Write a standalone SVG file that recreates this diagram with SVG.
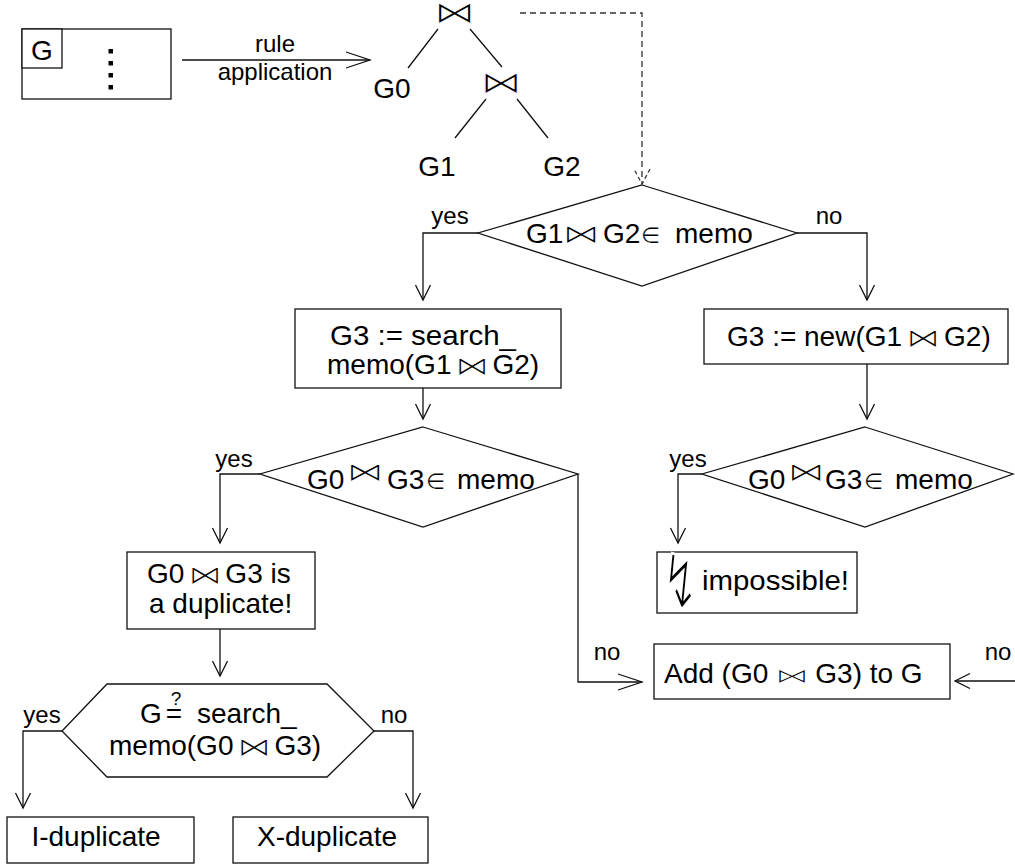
<svg xmlns="http://www.w3.org/2000/svg" width="1015" height="865" viewBox="0 0 1015 865">
  <style>
    .shape { fill: #fff; stroke: #111; stroke-width: 1.3; }
    .ln { fill: none; stroke: #111; stroke-width: 1.3; }
    .dash { fill: none; stroke: #333; stroke-width: 1.3; stroke-dasharray: 6 4; }
    .t { font-family: "Liberation Sans", Arial, sans-serif; font-size: 28px; fill: #000; }
    .c { text-anchor: middle; }
    .lbl { font-family: "Liberation Sans", Arial, sans-serif; font-size: 24px; fill: #000; text-anchor: middle; }
    /* join symbol: glyph thinned by a white stroke painted over its fill */
    .bt { font-family: "DejaVu Sans", sans-serif; font-size: 27px; text-anchor: middle; fill: #000; stroke: #fff; stroke-width: 0.9; }
    .el { font-family: "DejaVu Sans", sans-serif; font-size: 22px; fill: #000; stroke: #fff; stroke-width: 0.3; }
  </style>
  <defs>
    <marker id="ah" markerUnits="userSpaceOnUse" markerWidth="20" markerHeight="20" refX="0" refY="0" viewBox="-16 -10 20 20" orient="auto" overflow="visible">
      <path d="M-15,-7.5 L0,0 L-15,7.5" fill="none" stroke="#111" stroke-width="1.3"/>
    </marker>
    <marker id="ahL" markerUnits="userSpaceOnUse" markerWidth="30" markerHeight="20" refX="0" refY="0" viewBox="-26 -10 30 20" orient="auto" overflow="visible">
      <path d="M-24,-8 L0,0 L-24,8" fill="none" stroke="#111" stroke-width="1.3"/>
    </marker>
    <marker id="ahD" markerUnits="userSpaceOnUse" markerWidth="20" markerHeight="20" refX="0" refY="0" viewBox="-16 -10 20 20" orient="auto" overflow="visible">
      <path d="M-15,-8 L0,0 L-15,8" fill="none" stroke="#333" stroke-width="1.3" stroke-dasharray="4 3"/>
    </marker>
  </defs>

  <!-- connectors -->
  <g id="connectors">
    <path class="ln" d="M182,60 H370" marker-end="url(#ahL)"/>
    <path class="dash" d="M520,13 H642 V184" marker-end="url(#ahD)"/>
    <!-- join tree edges -->
    <path class="ln" d="M438,29 L408,68 M470,29 L502,67 M486,99 L455,138 M517,99 L548,138"/>
    <path class="ln" d="M478,233 H423 V300" marker-end="url(#ah)"/>
    <path class="ln" d="M797,233 H867 V300" marker-end="url(#ah)"/>
    <path class="ln" d="M423,388 V419" marker-end="url(#ah)"/>
    <path class="ln" d="M867,364 V419" marker-end="url(#ah)"/>
    <path class="ln" d="M260,474 H220 V543" marker-end="url(#ah)"/>
    <path class="ln" d="M578,474 V682 H642" marker-end="url(#ahL)"/>
    <path class="ln" d="M702,474 H678 V543" marker-end="url(#ah)"/>
    <path class="ln" d="M1015,681 H955" marker-end="url(#ah)"/>
    <path class="ln" d="M220,629 V676" marker-end="url(#ah)"/>
    <path class="ln" d="M62,731 H23 V808" marker-end="url(#ah)"/>
    <path class="ln" d="M374,731 H413 V808" marker-end="url(#ah)"/>
    <text class="lbl" x="275" y="52">rule</text>
    <text class="lbl" x="275" y="80">application</text>
    <text class="lbl" x="450" y="224">yes</text>
    <text class="lbl" x="829" y="224">no</text>
    <text class="lbl" x="234" y="467">yes</text>
    <text class="lbl" x="688" y="467">yes</text>
    <text class="lbl" x="607" y="660">no</text>
    <text class="lbl" x="998" y="660">no</text>
    <text class="lbl" x="42" y="723">yes</text>
    <text class="lbl" x="394" y="723">no</text>
  </g>

  <!-- group G with its members -->
  <g id="group-g">
    <rect class="shape" x="22" y="29" width="149" height="70"/>
    <rect class="shape" x="22" y="29" width="40" height="39"/>
    <text class="t c" x="42" y="60">G</text>
    <rect x="108.5" y="49" width="4.5" height="4.5" fill="#000"/>
    <rect x="108.5" y="61" width="4.5" height="4.5" fill="#000"/>
    <rect x="108.5" y="73" width="4.5" height="4.5" fill="#000"/>
    <rect x="108.5" y="85" width="4.5" height="4.5" fill="#000"/>
  </g>

  <!-- operator tree -->
  <g id="join-top"><text class="bt" style="font-size:31px" transform="translate(454.5,13.5) scale(1.33,1)" y="9.9">⋈</text></g>
  <g id="join-inner"><text class="bt" style="font-size:31px" transform="translate(501,83.5) scale(1.33,1)" y="9.9">⋈</text></g>
  <g id="leaf-g0"><text class="t c" x="392" y="98">G0</text></g>
  <g id="leaf-g1"><text class="t c" x="437" y="176">G1</text></g>
  <g id="leaf-g2"><text class="t c" x="562" y="176">G2</text></g>

  <g id="test-g1g2">
    <polygon class="shape" points="642,185 797,233 642,286 478,233"/>
    <text class="t" y="243"><tspan x="526">G1</tspan><tspan x="603">G2</tspan><tspan x="675">memo</tspan></text>
    <text class="bt" transform="translate(581,234.5) scale(1.38,1)" y="8.6">⋈</text>
    <text class="el" x="641" y="243">∈</text>
  </g>

  <g id="search-g1g2">
    <rect class="shape" x="295" y="309" width="266" height="79"/>
    <text class="t" x="330" y="345" textLength="186" lengthAdjust="spacingAndGlyphs">G3 := search_</text>
    <text class="t" x="327" y="374">memo(G1<tspan dx="41">G2)</tspan></text>
    <text class="bt" transform="translate(472,366) scale(1.25,1)" y="8.6">⋈</text>
  </g>

  <g id="new-g1g2">
    <rect class="shape" x="704" y="309" width="304" height="55"/>
    <text class="t" x="727" y="346">G3 := new(G1<tspan dx="42">G2)</tspan></text>
    <text class="bt" transform="translate(923,338) scale(1.25,1)" y="8.6">⋈</text>
  </g>

  <g id="test-g0g3-left">
    <polygon class="shape" points="423,427 578,474 423,527 260,474"/>
    <text class="t" y="489"><tspan x="307">G0</tspan><tspan x="387">G3</tspan><tspan x="457">memo</tspan></text>
    <text class="bt" transform="translate(365,472.5) scale(1.38,1)" y="8.6">⋈</text>
    <text class="el" x="426" y="489">∈</text>
  </g>

  <g id="test-g0g3-right">
    <polygon class="shape" points="865,427 1013,474 865,527 702,474"/>
    <text class="t" y="489"><tspan x="748">G0</tspan><tspan x="825">G3</tspan><tspan x="895">memo</tspan></text>
    <text class="bt" transform="translate(806,472.5) scale(1.38,1)" y="8.6">⋈</text>
    <text class="el" x="864" y="489">∈</text>
  </g>

  <g id="impossible">
    <rect class="shape" x="657" y="552" width="200" height="61"/>
    <text class="bt" style="font-size:60px;stroke-width:2.2" transform="translate(680,582) scale(0.7,1.25)" y="21">↯</text>
    <text class="t" x="702" y="590" textLength="147" lengthAdjust="spacingAndGlyphs">impossible!</text>
  </g>

  <g id="duplicate">
    <rect class="shape" x="127" y="552" width="188" height="77"/>
    <text class="t" x="147" y="583">G0<tspan dx="41">G3 is</tspan></text>
    <text class="bt" transform="translate(205,575) scale(1.25,1)" y="8.6">⋈</text>
    <text class="t" x="149" y="613">a duplicate!</text>
  </g>

  <g id="add-to-g">
    <rect class="shape" x="654" y="644" width="296" height="55"/>
    <text class="t" x="664" y="683">Add (G0<tspan dx="47">G3) to G</tspan></text>
    <text class="bt" style="font-size:21px;stroke-width:0.8" transform="translate(792,676.5) scale(1.62,1)" y="6.7">⋈</text>
  </g>

  <g id="test-same-group">
    <polygon class="shape" points="107,684 327,684 374,731 327,777 107,777 62,731"/>
    <text class="t" x="140" y="723">G</text>
    <text class="t c"><tspan x="174" y="723">=</tspan><tspan x="176" y="705" style="font-size:19px">?</tspan></text>
    <text class="t" x="197" y="723">search_</text>
    <text class="t" x="109" y="755">memo(G0<tspan dx="41">G3)</tspan></text>
    <text class="bt" transform="translate(254,747) scale(1.25,1)" y="8.6">⋈</text>
  </g>

  <g id="i-duplicate">
    <rect class="shape" x="7" y="817" width="187" height="46"/>
    <text class="t c" x="96" y="846">I-duplicate</text>
  </g>

  <g id="x-duplicate">
    <rect class="shape" x="233" y="817" width="195" height="46"/>
    <text class="t c" x="327" y="846">X-duplicate</text>
  </g>
</svg>
